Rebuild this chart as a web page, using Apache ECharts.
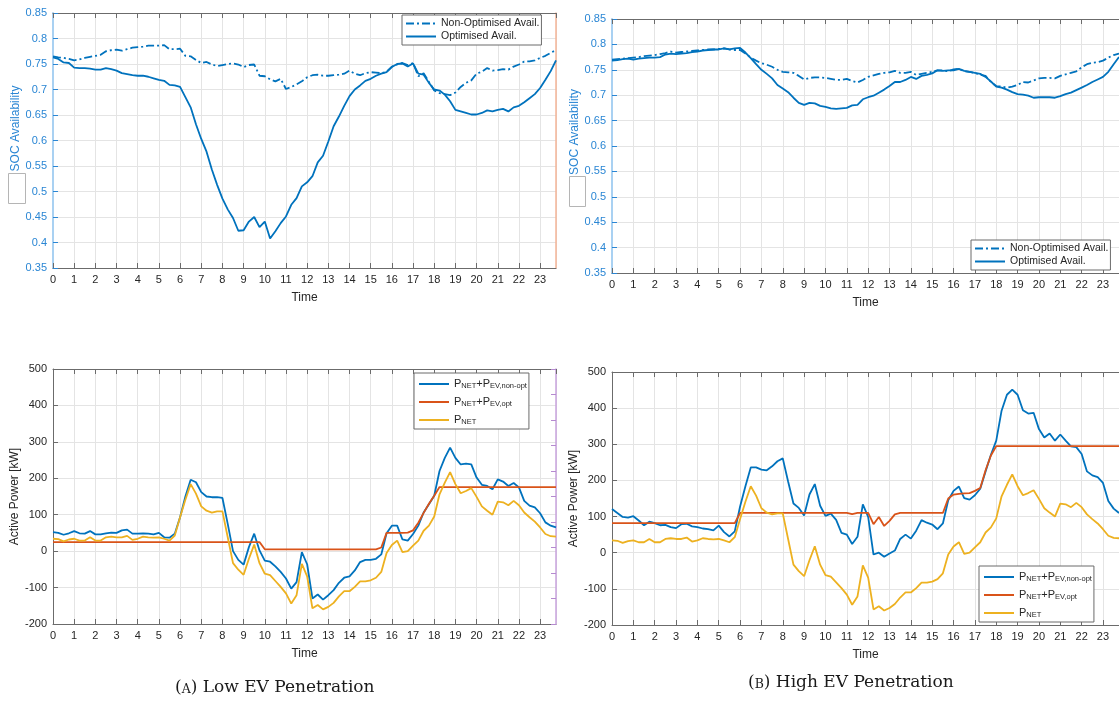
<!DOCTYPE html>
<html>
<head>
<meta charset="utf-8">
<script src="https://cdn.jsdelivr.net/npm/echarts@6/dist/echarts.min.js"></script>
<style>
html,body{margin:0;padding:0;background:#fff;overflow:hidden;}
#c{width:1119px;height:702px;}
</style>
</head>
<body>
<div id="c"></div>
<script>
// ---- data ----
// time of day in hours, 15-minute steps (0 .. 23.75)
const TIME = [];
for (let i = 0; i < 96; i++) TIME.push(i * 0.25);
const X_TICKS = [0,1,2,3,4,5,6,7,8,9,10,11,12,13,14,15,16,17,18,19,20,21,22,23];

// (A) Low EV penetration - SOC availability
const socA_nonopt = [
  0.765,0.763,0.762,0.760,0.757,0.759,0.762,0.764,0.766,0.768,0.775,0.777,
  0.778,0.776,0.779,0.782,0.783,0.784,0.786,0.786,0.786,0.787,0.779,0.779,
  0.780,0.766,0.765,0.758,0.752,0.754,0.749,0.746,0.748,0.750,0.751,0.749,
  0.744,0.748,0.749,0.727,0.726,0.720,0.716,0.721,0.701,0.705,0.710,0.716,
  0.724,0.728,0.729,0.727,0.727,0.728,0.729,0.731,0.737,0.731,0.728,0.732,
  0.734,0.733,0.732,0.735,0.745,0.749,0.752,0.748,0.752,0.726,0.732,0.715,
  0.698,0.693,0.691,0.689,0.694,0.705,0.713,0.718,0.731,0.735,0.742,0.737,
  0.738,0.740,0.739,0.745,0.749,0.755,0.755,0.757,0.762,0.766,0.772,0.777];
const socA_opt = [
  0.763,0.760,0.753,0.752,0.743,0.742,0.742,0.741,0.739,0.739,0.742,0.740,
  0.737,0.732,0.730,0.728,0.727,0.727,0.725,0.722,0.719,0.717,0.709,0.708,
  0.705,0.685,0.665,0.632,0.603,0.578,0.543,0.513,0.486,0.465,0.448,0.423,
  0.424,0.441,0.450,0.430,0.441,0.408,0.422,0.438,0.451,0.474,0.487,0.510,
  0.518,0.530,0.557,0.570,0.598,0.628,0.647,0.668,0.687,0.700,0.708,0.717,
  0.721,0.727,0.731,0.734,0.744,0.750,0.751,0.745,0.751,0.731,0.729,0.713,
  0.700,0.698,0.690,0.677,0.660,0.657,0.654,0.651,0.651,0.654,0.659,0.657,
  0.660,0.662,0.657,0.665,0.668,0.675,0.683,0.691,0.703,0.719,0.736,0.757];

// (B) High EV penetration - SOC availability
const socB_nonopt = [
  0.770,0.771,0.772,0.773,0.774,0.775,0.777,0.778,0.779,0.781,0.783,0.786,
  0.784,0.785,0.786,0.787,0.788,0.789,0.790,0.790,0.791,0.792,0.790,0.789,
  0.789,0.782,0.774,0.768,0.763,0.760,0.756,0.750,0.746,0.745,0.744,0.738,
  0.731,0.734,0.735,0.735,0.734,0.732,0.730,0.730,0.732,0.728,0.725,0.730,
  0.736,0.739,0.742,0.744,0.745,0.748,0.744,0.744,0.746,0.740,0.742,0.744,
  0.746,0.749,0.749,0.747,0.751,0.752,0.747,0.746,0.744,0.740,0.738,0.726,
  0.718,0.717,0.715,0.717,0.720,0.726,0.725,0.729,0.733,0.734,0.734,0.733,
  0.738,0.741,0.744,0.747,0.755,0.761,0.764,0.765,0.768,0.774,0.779,0.782];
const socB_opt = [
  0.768,0.769,0.771,0.772,0.770,0.772,0.773,0.774,0.774,0.775,0.780,0.782,
  0.781,0.782,0.783,0.785,0.786,0.788,0.789,0.790,0.790,0.792,0.790,0.792,
  0.793,0.784,0.773,0.761,0.750,0.742,0.733,0.720,0.713,0.706,0.695,0.685,
  0.681,0.685,0.684,0.679,0.677,0.674,0.673,0.674,0.675,0.680,0.681,0.692,
  0.696,0.699,0.705,0.711,0.718,0.726,0.726,0.730,0.736,0.732,0.738,0.740,
  0.743,0.749,0.748,0.749,0.749,0.752,0.748,0.746,0.744,0.742,0.736,0.727,
  0.717,0.715,0.711,0.706,0.702,0.701,0.699,0.695,0.696,0.696,0.696,0.695,
  0.698,0.702,0.705,0.710,0.715,0.720,0.726,0.731,0.736,0.746,0.761,0.775];

// Net load without EVs (same in both scenarios), kW
const pNet = [
  34,33,27,32,34,29,29,38,29,29,38,40,
  38,38,42,31,34,40,38,37,38,34,29,43,
  93,141,184,158,123,111,106,109,109,38,-33,-51,
  -65,-21,18,-33,-62,-66,-82,-98,-116,-144,-121,-35,
  -69,-157,-148,-160,-153,-142,-124,-110,-110,-98,-83,-83,
  -80,-73,-57,-5,17,29,-3,0,15,29,56,70,
  95,156,188,217,184,159,165,173,149,123,111,100,
  136,134,126,138,126,106,93,81,65,47,41,40];

// (A) Low EV penetration - power, kW
const pA_nonopt = [
  52,50,45,49,55,49,48,55,46,46,49,51,
  50,57,59,48,48,49,48,46,50,38,37,48,
  93,150,196,189,162,150,148,148,146,75,0,-24,
  -37,11,48,2,-26,-29,-42,-57,-75,-103,-85,-3,
  -36,-130,-119,-133,-121,-107,-87,-73,-69,-53,-30,-24,
  -24,-21,-9,49,70,70,32,29,47,70,106,129,
  152,220,256,284,256,238,240,238,202,182,179,170,
  197,191,179,187,175,138,125,120,104,79,70,65];
const pA_opt = [
  25,25,25,25,25,25,25,25,25,25,25,25,
  25,25,25,25,25,25,25,25,25,25,25,25,
  25,25,25,25,25,25,25,25,25,25,25,25,
  25,25,25,25,5,5,5,5,5,5,5,5,
  5,5,5,5,5,5,5,5,5,5,5,5,
  5,5,10,50,50,50,50,51,57,78,105,130,
  152,176,176,176,176,176,176,176,176,176,176,176,
  176,176,176,176,176,176,176,176,176,176,176,176];

// (B) High EV penetration - power, kW
const pB_nonopt = [
  121,110,99,97,101,89,76,86,82,76,77,71,
  68,79,80,73,71,67,65,62,75,57,45,59,
  128,184,236,236,230,228,239,253,261,197,136,124,
  103,161,190,130,102,108,91,55,50,24,44,134,
  99,-5,0,-11,-2,6,38,50,39,61,90,83,
  78,65,81,145,171,183,151,147,159,177,225,271,
  310,393,437,451,437,394,385,387,342,319,330,310,
  327,310,294,292,273,225,214,209,193,143,122,110];
const pB_opt = [
  82,82,82,82,82,82,82,82,82,82,82,82,
  82,82,82,82,82,82,82,82,82,82,82,82,
  110,110,110,110,110,110,110,110,110,110,110,110,
  110,110,110,110,110,110,110,110,110,107,110,110,
  110,79,99,74,88,106,110,110,110,110,110,110,
  110,110,110,150,161,163,164,165,171,179,228,269,
  295,295,295,295,295,295,295,295,295,295,295,295,
  295,295,295,295,295,295,295,295,295,295,295,295];

const SOC_TICKS = [0.35,0.4,0.45,0.5,0.55,0.6,0.65,0.7,0.75,0.8,0.85];
const P_TICKS = [-200,-100,0,100,200,300,400,500];

const NAME_NONOPT = 'Non-Optimised Avail.';
const NAME_OPT = 'Optimised Avail.';
const NAME_P1 = 'PNET+PEV,non-opt';
const NAME_P2 = 'PNET+PEV,opt';
const NAME_P3 = 'PNET';

// ---- styling helpers ----
const FONT = 'Liberation Sans, Arial, Helvetica, sans-serif';
const BLUE = '#0072BD', ORANGE = '#D95319', YELLOW = '#EDB120';
const DARK = '#262626', BOX = '#6b6b6b', GRIDC = '#e4e4e4';
const SOCLABEL = '#2a86d4';

function pairs(vals) { return vals.map((v, i) => [TIME[i], v]); }

function xBottom(gi) {
  return {
    type: 'value', gridIndex: gi, position: 'bottom',
    min: TIME[0], max: TIME[TIME.length - 1], interval: X_TICKS[1] - X_TICKS[0],
    name: 'Time', nameLocation: 'middle', nameGap: 24,
    nameTextStyle: { fontFamily: FONT, fontSize: 12, color: DARK },
    axisLine: { show: true, onZero: false, lineStyle: { color: BOX, width: 1 } },
    axisTick: { show: true, inside: true, length: 5, lineStyle: { color: BOX } },
    axisLabel: { fontFamily: FONT, fontSize: 11, color: DARK, margin: 6, showMaxLabel: false,
      formatter: v => (Number.isInteger(v) ? String(v) : '') },
    splitLine: { show: true, lineStyle: { color: GRIDC, width: 1 } }
  };
}
function xTop(gi) {
  return {
    type: 'value', gridIndex: gi, position: 'top',
    min: TIME[0], max: TIME[TIME.length - 1], interval: 1,
    axisLine: { show: true, onZero: false, lineStyle: { color: BOX, width: 1 } },
    axisTick: { show: true, inside: true, length: 5, lineStyle: { color: BOX } },
    axisLabel: { show: false }, splitLine: { show: false }
  };
}
function ySoc(gi, shift) {
  return {
    type: 'value', gridIndex: gi, position: 'left',
    min: SOC_TICKS[0], max: SOC_TICKS[SOC_TICKS.length - 1], interval: 0.05,
    name: 'SOC Availability', nameLocation: 'middle', nameGap: 29, nameRotate: 90,
    nameTextStyle: { fontFamily: FONT, fontSize: 12, color: SOCLABEL, padding: [0, 0, 0, shift] },
    axisLine: { show: true, onZero: false, lineStyle: { color: '#a9d1f2', width: 2 } },
    axisTick: { show: true, inside: true, length: 5, lineStyle: { color: SOCLABEL } },
    axisLabel: { fontFamily: FONT, fontSize: 11, color: SOCLABEL, margin: 6,
      formatter: v => String(parseFloat(v.toFixed(2))) },
    splitLine: { show: true, lineStyle: { color: GRIDC, width: 1 } }
  };
}
function yPow(gi) {
  return {
    type: 'value', gridIndex: gi, position: 'left',
    min: P_TICKS[0], max: P_TICKS[P_TICKS.length - 1], interval: 100,
    name: 'Active Power [kW]', nameLocation: 'middle', nameGap: 29, nameRotate: 90,
    nameTextStyle: { fontFamily: FONT, fontSize: 12, color: DARK },
    axisLine: { show: true, onZero: false, lineStyle: { color: BOX, width: 1 } },
    axisTick: { show: true, inside: true, length: 5, lineStyle: { color: BOX } },
    axisLabel: { fontFamily: FONT, fontSize: 11, color: DARK, margin: 6 },
    splitLine: { show: true, lineStyle: { color: GRIDC, width: 1 } }
  };
}

const richSub = {
  n: { fontFamily: FONT, fontSize: 11, color: DARK, lineHeight: 12, verticalAlign: 'top' },
  s: { fontFamily: FONT, fontSize: 7.5, color: DARK, lineHeight: 9, padding: [6, 0, 0, 0], verticalAlign: 'bottom' }
};
function subFmt(name) {
  if (name === NAME_P1) return '{n|P}{s|NET}{n|+P}{s|EV,non-opt}';
  if (name === NAME_P2) return '{n|P}{s|NET}{n|+P}{s|EV,opt}';
  if (name === NAME_P3) return '{n|P}{s|NET}';
  return name;
}
function legendBox(names, left, top, sub) {
  return {
    show: true, orient: 'vertical', left: left, top: top, data: names,
    backgroundColor: '#fff', borderColor: BOX, borderWidth: 1, borderRadius: 0,
    padding: sub ? [3, 2, 3, 4] : [3, 2, 3, 3], itemGap: sub ? 4 : 2,
    itemWidth: 30, itemHeight: 10, selectedMode: false,
    itemStyle: { opacity: 0 },
    textStyle: { fontFamily: FONT, fontSize: sub ? 11 : 10.5, color: DARK, rich: sub ? richSub : undefined },
    formatter: sub ? subFmt : undefined
  };
}

function line(name, data, color, xi, yi, dash) {
  return {
    type: 'line', name: name, data: pairs(data), xAxisIndex: xi, yAxisIndex: yi,
    showSymbol: false, symbol: 'none', animation: false, silent: true,
    lineStyle: { color: color, width: 1.8, type: dash ? [8, 3, 2, 3] : 'solid' },
    itemStyle: { color: color }
  };
}

const SERIF = 'DejaVu Serif, Liberation Serif, serif';
function caption(letter, rest, left, top) {
  return { type: 'text', left: left, top: top, silent: true,
    style: { text: '{a|(}{b|' + letter + '}{a|) ' + rest + '}',
      rich: { a: { fontFamily: SERIF, fontSize: 17, fill: '#1a1a1a' },
              b: { fontFamily: SERIF, fontSize: 12.5, fill: '#1a1a1a', verticalAlign: 'bottom', padding: [3, 0, 0, 0] } } } };
}

const option = {
  backgroundColor: '#fff',
  animation: false,
  grid: [
    { left: 53, top: 13, width: 503, height: 255 },
    { left: 612, top: 19, width: 513, height: 254 },
    { left: 53, top: 369, width: 503, height: 255 },
    { left: 612, top: 372, width: 513, height: 253 }
  ],
  xAxis: [xBottom(0), xTop(0), xBottom(1), xTop(1), xBottom(2), xTop(2), xBottom(3), xTop(3)],
  yAxis: [
    ySoc(0, 24),
    { type: 'value', gridIndex: 0, position: 'right', min: 0, max: 1,
      axisLine: { show: true, onZero: false, lineStyle: { color: '#f5b597', width: 1.5 } },
      axisTick: { show: false }, axisLabel: { show: false }, splitLine: { show: false } },
    ySoc(1, 28),
    yPow(2),
    { type: 'value', gridIndex: 2, position: 'right', min: 0, max: 10, interval: 1,
      axisLine: { show: true, onZero: false, lineStyle: { color: '#c9a3de', width: 1.5 } },
      axisTick: { show: true, inside: true, length: 5, lineStyle: { color: '#b58ad0' } },
      axisLabel: { show: false }, splitLine: { show: false } },
    yPow(3)
  ],
  legend: [
    legendBox([NAME_NONOPT, NAME_OPT], 402, 15, false),
    legendBox([NAME_NONOPT, NAME_OPT], 971, 240, false),
    legendBox([NAME_P1, NAME_P2, NAME_P3], 414, 373, true),
    legendBox([NAME_P1, NAME_P2, NAME_P3], 979, 566, true)
  ],
  series: [
    line(NAME_NONOPT, socA_nonopt, BLUE, 0, 0, true),
    line(NAME_OPT, socA_opt, BLUE, 0, 0, false),
    line(NAME_NONOPT, socB_nonopt, BLUE, 2, 2, true),
    line(NAME_OPT, socB_opt, BLUE, 2, 2, false),
    line(NAME_P1, pA_nonopt, BLUE, 4, 3, false),
    line(NAME_P2, pA_opt, ORANGE, 4, 3, false),
    line(NAME_P3, pNet, YELLOW, 4, 3, false),
    line(NAME_P1, pB_nonopt, BLUE, 6, 5, false),
    line(NAME_P2, pB_opt, ORANGE, 6, 5, false),
    line(NAME_P3, pNet, YELLOW, 6, 5, false)
  ],
  graphic: [
    { type: 'rect', left: 8, top: 173, shape: { width: 17, height: 30 },
      style: { fill: '#fff', stroke: '#b5b5b5', lineWidth: 1 }, silent: true },
    { type: 'rect', left: 569, top: 176, shape: { width: 16, height: 30 },
      style: { fill: '#fff', stroke: '#b5b5b5', lineWidth: 1 }, silent: true },
    caption('A', 'Low EV Penetration', 175, 679),
    caption('B', 'High EV Penetration', 748, 674)
  ]
};

const chart = echarts.init(document.getElementById('c'), null, { renderer: 'canvas' });
chart.setOption(option);
</script>
</body>
</html>
